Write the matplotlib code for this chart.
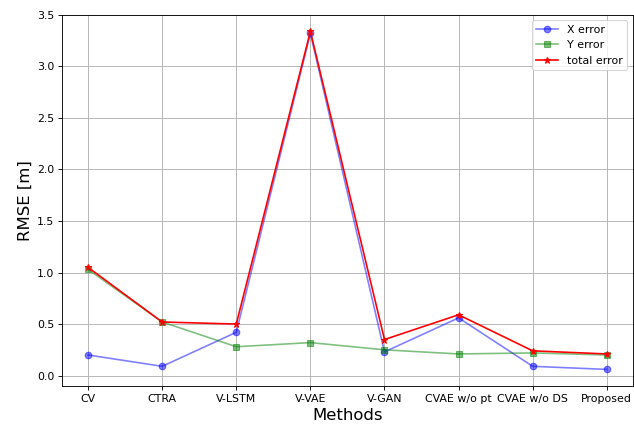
import numpy as np
import matplotlib
matplotlib.use('Agg')
import matplotlib.pyplot as plt

# Methods compared
methods = ['CV', 'CTRA', 'V-LSTM', 'V-VAE', 'V-GAN', 'CVAE w/o pt', 'CVAE w/o DS', 'Proposed']

# RMSE values
x_error = [0.20, 0.09, 0.42, 3.32, 0.23, 0.56, 0.09, 0.06]
y_error = [1.03, 0.52, 0.28, 0.32, 0.25, 0.21, 0.22, 0.20]
total_error = [1.05, 0.52, 0.50, 3.34, 0.35, 0.59, 0.24, 0.21]

dpi = 79
fig = plt.figure(figsize=(634/dpi, 425/dpi), dpi=dpi)
ax = fig.add_subplot(111)
fig.subplots_adjust(left=0.098, right=0.998, top=0.965, bottom=0.092)

xpos = np.arange(len(methods))
ax.plot(xpos, x_error, color='b', marker='o', alpha=0.5, label='X error')
ax.plot(xpos, y_error, color='g', marker='s', alpha=0.5, label='Y error')
ax.plot(xpos, total_error, color='r', marker='*', label='total error')

ax.set_xticks(xpos)
ax.set_xticklabels(methods)
ax.set_ylim(-0.1, 3.5)
ax.grid(True)
ax.set_xlabel('Methods', fontsize=15)
ax.set_ylabel('RMSE [m]', fontsize=15)
ax.legend(loc='upper right')

plt.savefig('out.png', dpi=dpi)
